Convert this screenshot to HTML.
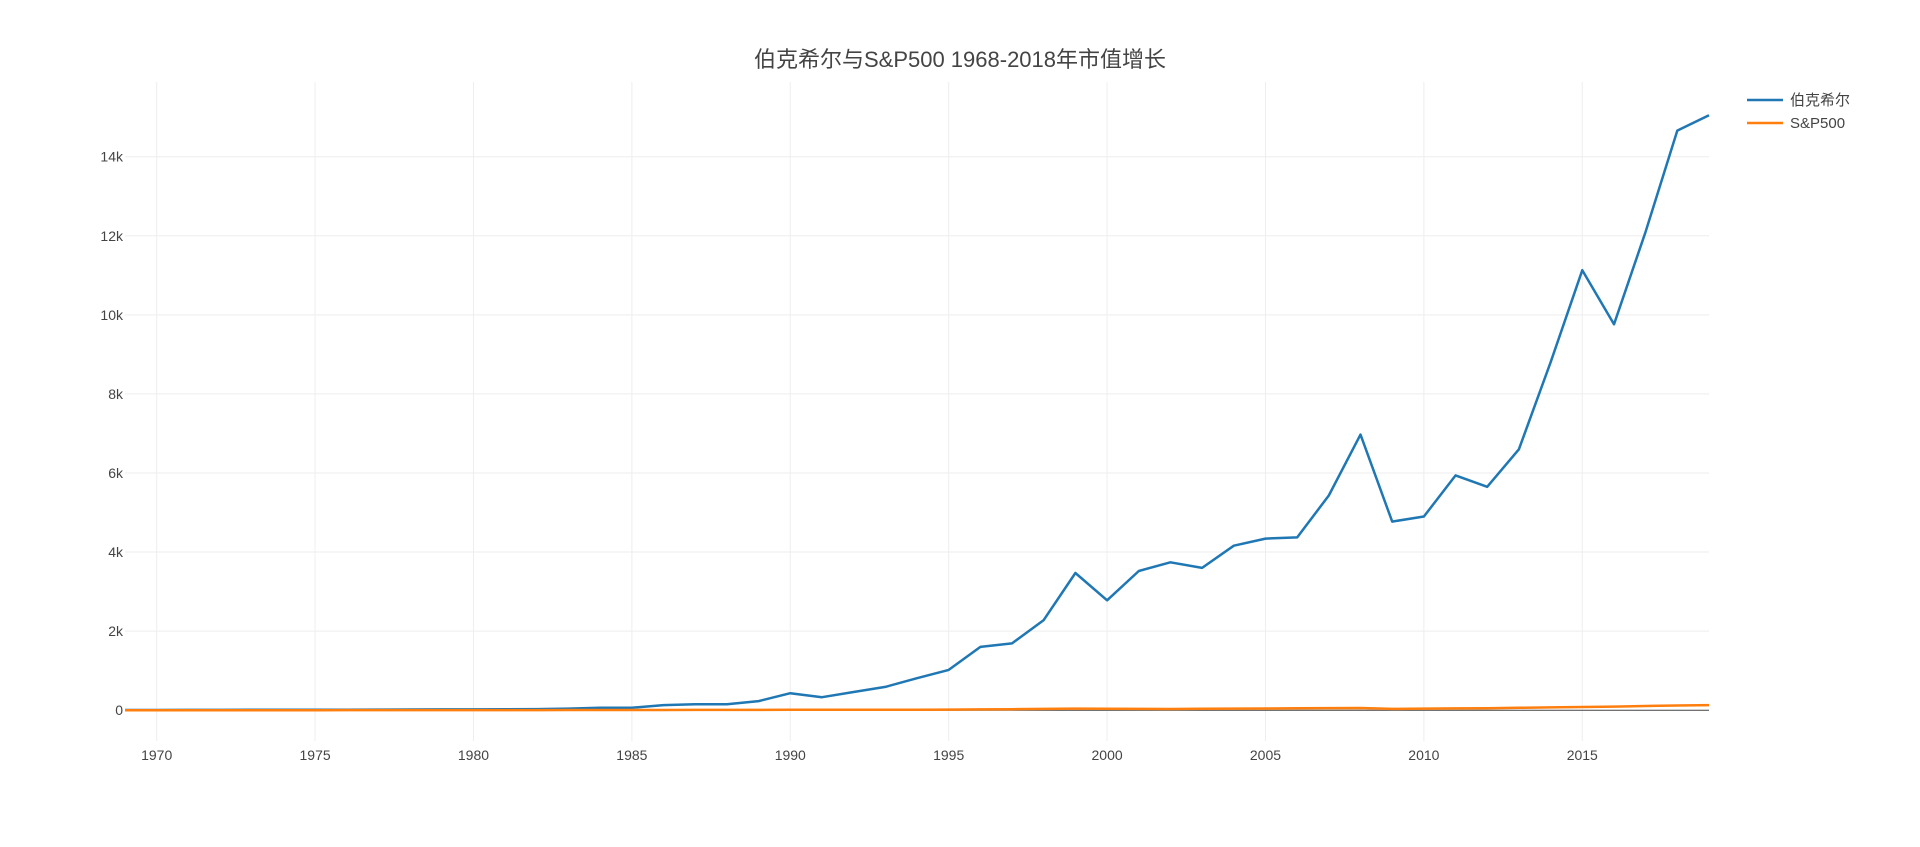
<!DOCTYPE html>
<html><head><meta charset="utf-8">
<style>
html,body{margin:0;padding:0;background:#fff;}
body{width:1920px;height:842px;overflow:hidden;font-family:"Liberation Sans","Noto Sans CJK SC",sans-serif;}
svg text{font-family:"Liberation Sans","Noto Sans CJK SC",sans-serif;fill:#444;}
</style></head>
<body>
<svg id="chart" width="1920" height="842" xmlns="http://www.w3.org/2000/svg">
  <g id="grid"></g>
  <g id="axes"></g>
  <g id="series"></g>
  <text x="960" y="67" text-anchor="middle" font-size="22">伯克希尔与S&amp;P500 1968-2018年市值增长</text>
  <g>
    <line x1="1747" y1="100" x2="1783" y2="100" stroke="#1f77b4" stroke-width="2.5"/>
    <text x="1790" y="105" font-size="15">伯克希尔</text>
    <line x1="1747" y1="123" x2="1783" y2="123" stroke="#ff7f0e" stroke-width="2.5"/>
    <text x="1790" y="128" font-size="15">S&amp;P500</text>
  </g>
</svg>
<script>
const years = [];
for (let y = 1969; y <= 2019; y++) years.push(y);
const berkshire = [5,6,7,8,9,10,11,13,15,17,19,21,24,28,40,60,62,130,150,152,230,430,330,460,590,810,1020,1600,1690,2280,3470,2780,3520,3740,3600,4160,4340,4370,5430,6970,4770,4900,5940,5650,6600,8800,11130,9760,12100,14660,15050];
const sp500 = [1,1,1,1,1,1,1,2,2,2,2,3,3,3,4,4,5,6,7,7,8,10,10,11,12,12,16,20,26,33,40,36,34,30,36,40,42,48,52,56,34,40,45,48,60,70,80,90,105,118,130];
const xTicks = [1970,1975,1980,1985,1990,1995,2000,2005,2010,2015];
const yTicks = [0,2000,4000,6000,8000,10000,12000,14000];
const yTickLabels = ['0','2k','4k','6k','8k','10k','12k','14k'];

const L=125,R=1709,T=82,B=741;
const xMin=1969,xMax=2019;
const zeroY=710.2, perUnit=(710.2-156.7)/14000;
const xs=v=>L+(v-xMin)/(xMax-xMin)*(R-L);
const ys=v=>zeroY-v*perUnit;
const NS='http://www.w3.org/2000/svg';
const grid=document.getElementById('grid'),axes=document.getElementById('axes'),series=document.getElementById('series');
function mk(tag,attrs,parent){const e=document.createElementNS(NS,tag);for(const k in attrs)e.setAttribute(k,attrs[k]);parent.appendChild(e);return e;}

xTicks.forEach(t=>{
  const x=xs(t);
  const g=mk('line',{x1:x,x2:x,y1:T,y2:B,stroke:'#eee','stroke-width':1},grid);
  
  
  const tx=mk('text',{x:x,y:760,'text-anchor':'middle','font-size':14},axes);
  tx.textContent=t;
  
  
});
yTicks.forEach((t,i)=>{
  const y=ys(t);
  if(t!==0){
    const g=mk('line',{x1:L,x2:R,y1:y,y2:y,stroke:'#eee','stroke-width':1},grid);
    
    
  }
  const tx=mk('text',{x:L-2,y:y+5,'text-anchor':'end','font-size':14},axes);
  tx.textContent=yTickLabels[i];
  
  
});
const zl=mk('line',{x1:L,x2:R,y1:ys(0),y2:ys(0),stroke:'#444','stroke-width':1},axes);



function path(vals,color,name){
  const d=vals.map((v,i)=>(i?'L':'M')+xs(years[i]).toFixed(1)+','+ys(v).toFixed(1)).join(' ');
  const p=mk('path',{d:d,fill:'none',stroke:color,'stroke-width':2.5,'stroke-linejoin':'round'},series);
  
  
}
path(berkshire,'#1f77b4','berkshire-line');
path(sp500,'#ff7f0e','sp500-line');
</script>
</body></html>
